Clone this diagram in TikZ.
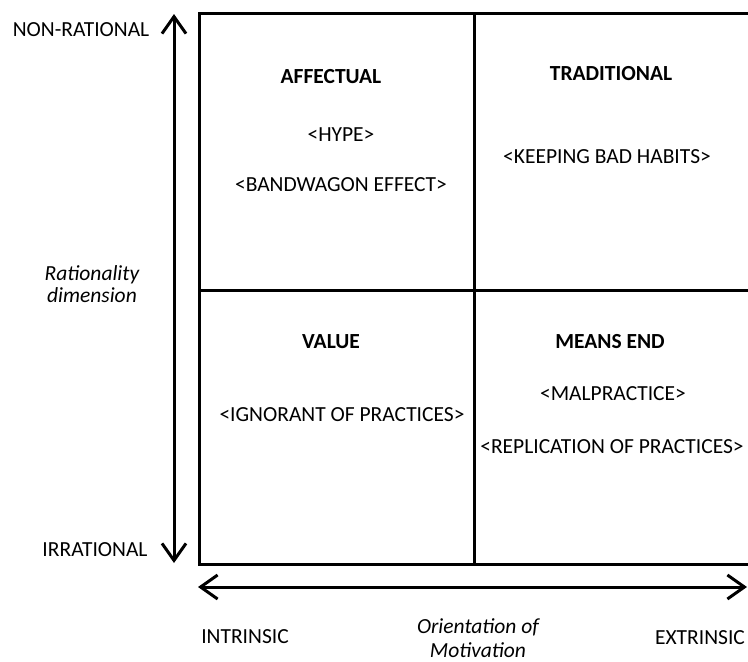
\documentclass[tikz,border=0pt]{standalone}
\usepackage{fontspec}
\setmainfont{Carlito}
\usetikzlibrary{arrows.meta}
\begin{document}
\begin{tikzpicture}[x=1pt,y=-1pt,
  every node/.style={inner sep=0pt, font=\fontsize{21.5}{25}\selectfont},
  heading/.style={font=\fontsize{21.5}{25}\selectfont\bfseries},
  axislabel/.style={font=\fontsize{21.5}{25}\selectfont\itshape, align=center},
  gridline/.style={line width=3pt},
  axisarrow/.style={line width=3pt, {Straight Barb[length=17pt,width=24pt,line width=3pt]}-{Straight Barb[length=17pt,width=24pt,line width=3pt]}}]
\useasboundingbox (0,0) rectangle (748,662);
\clip (0,0) rectangle (748,662);
% grid
\draw[gridline] (753,13) -- (199,13) -- (199,564) -- (753,564);
\draw[gridline] (474,13) -- (474,564);
\draw[gridline] (199,290) -- (753,290);
% axes
\coordinate (vtop) at (174,14);
\coordinate (vbot) at (174,563);
\coordinate (hleft) at (198,587);
\coordinate (hright) at (747,587);
\draw[axisarrow] (vbot) -- (vtop);
\draw[axisarrow] (hleft) -- (hright);
% axis labels
\node (nonrat) at (81,30) {NON-RATIONAL};
\node (irrat) at (95,550) {IRRATIONAL};
\node[axislabel] (ratdim) at (92,284) {Rationality\\[-3pt]dimension};
\node (intr) at (245,637) {INTRINSIC};
\node (extr) at (700,638) {EXTRINSIC};
\node[axislabel] (orient) at (478,638) {Orientation of\\[-1pt]Motivation};
% quadrants
\node[heading] (aff) at (331,77) {AFFECTUAL};
\node (hype) at (341,135) {<HYPE>};
\node (band) at (341,185) {<BANDWAGON EFFECT>};
\node[heading] (trad) at (611,74) {TRADITIONAL};
\node (keep) at (607,157) {<KEEPING BAD HABITS>};
\node[heading] (val) at (331,342) {VALUE};
\node (ign) at (342,415) {<IGNORANT OF PRACTICES>};
\node[heading] (means) at (610,342) {MEANS END};
\node (mal) at (613,394) {<MALPRACTICE>};
\node (repl) at (612,447) {<REPLICATION OF PRACTICES>};
\end{tikzpicture}
\end{document}
